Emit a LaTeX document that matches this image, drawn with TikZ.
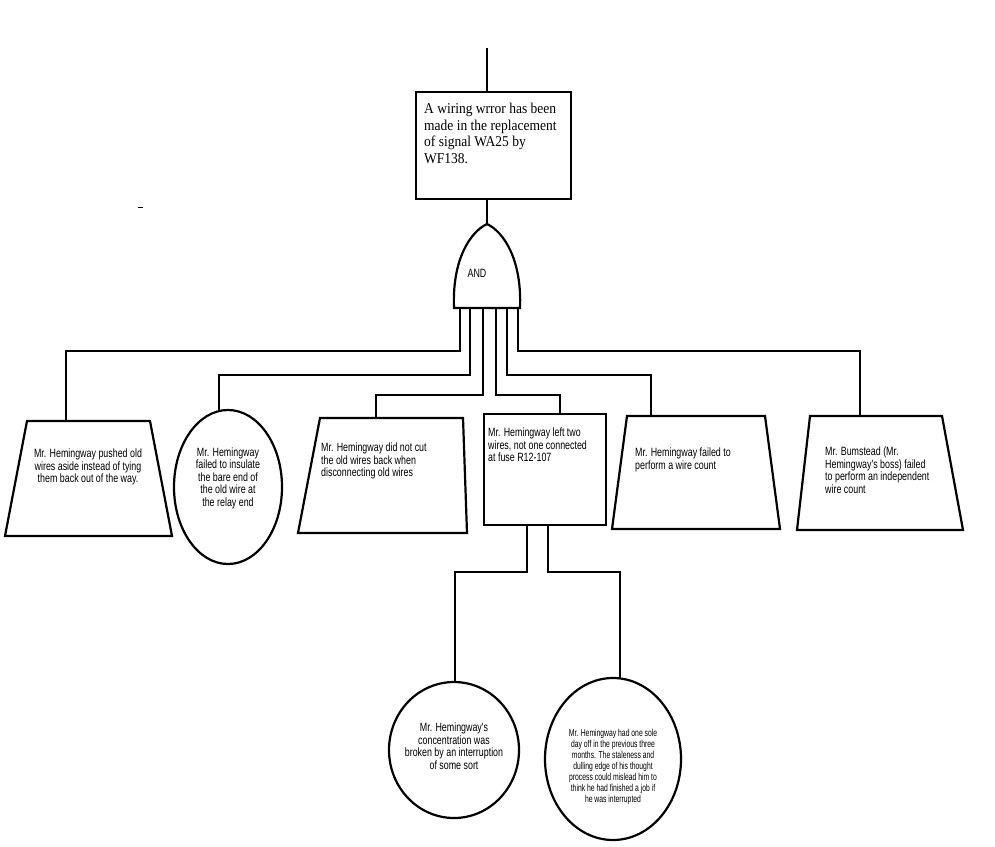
\documentclass[tikz,border=0pt]{standalone}
\usepackage{fontspec}
\setmainfont{Liberation Serif}
\newfontfamily\narrowsans[FakeStretch=0.74]{Liberation Sans}
\begin{document}
\begin{tikzpicture}[x=1pt,y=-1pt,
  shp/.style={draw=black,line width=2.2pt},
  ln/.style={draw=black,line width=2.2pt},
  lbl/.style={font=\narrowsans\fontsize{12}{12.5}\selectfont,align=center,inner sep=0pt}]
\useasboundingbox (0,0) rectangle (995,846);
% top
\coordinate (topend) at (487,48);
\draw[shp] (416,92) rectangle (571,199);
\node[font=\fontsize{15}{16.5}\selectfont\addfontfeatures{FakeStretch=0.9},align=left,anchor=north west,inner sep=0pt] (top) at (424,103) {A wiring wrror has been\\made in the replacement\\of signal WA25 by\\WF138.};
\draw[ln] (topend) -- (487,92);
\draw[ln] (487,199) -- (487,225);
% AND gate
\draw[shp] (454,308) .. controls (452,260) and (470,232) .. (487,224) .. controls (504,232) and (522,260) .. (520,308) -- cycle;
\node[font=\narrowsans\fontsize{12}{13}\selectfont,inner sep=0pt] (and) at (477,273) {AND};
% trap1
\draw[shp] (27,421) -- (150,421) -- (172,536) -- (5,536) -- cycle;
\node[lbl] (t1) at (88,467) {Mr. Hemingway pushed old\\wires aside instead of tying\\them back out of the way.};
\draw[ln] (460,308) -- (460,351) -- (66,351) -- (66,421);
% ellipse2
\draw[shp] (228,487) ellipse [x radius=54,y radius=77];
\node[lbl] (e2) at (228,478) {Mr. Hemingway\\failed to insulate\\the bare end of\\the old wire at\\the relay end};
\draw[ln] (470,308) -- (470,375) -- (219,375) -- (219,410);
% trap3
\draw[shp] (320,418) -- (463,418) -- (467,533) -- (298,533) -- cycle;
\node[lbl,align=left,anchor=north west] (t3) at (321,443) {Mr. Hemingway did not cut\\the old wires back when\\disconnecting old wires};
\draw[ln] (483,308) -- (483,395) -- (376,395) -- (376,418);
% box4
\draw[shp] (484,414) rectangle (606,525);
\node[lbl,align=left,anchor=north west] (b4) at (488,428) {Mr. Hemingway left two\\wires, not one connected\\at fuse R12-107};
\draw[ln] (496,308) -- (496,395) -- (560,395) -- (560,414);
% trap5
\draw[shp] (627,416) -- (765,416) -- (780,529) -- (612,529) -- cycle;
\node[lbl,align=left,anchor=north west] (t5) at (635,448) {Mr. Hemingway failed to\\perform a wire count};
\draw[ln] (507,308) -- (507,375) -- (651,375) -- (651,416);
% trap6
\draw[shp] (810,416) -- (942,416) -- (963,530) -- (797,530) -- cycle;
\node[lbl,align=left,anchor=north west] (t6) at (825,447) {Mr. Bumstead (Mr.\\Hemingway's boss) failed\\to perform an independent\\wire count};
\draw[ln] (518,308) -- (518,351) -- (860,351) -- (860,416);
% bottom ellipses
\draw[shp] (454,750) ellipse [x radius=65,y radius=68];
\node[lbl] (e7) at (454,746) {Mr. Hemingway's\\concentration was\\broken by an interruption\\of some sort};
\draw[shp] (613,759) ellipse [x radius=68,y radius=81];
\node[lbl,font=\narrowsans\fontsize{10}{11}\selectfont\addfontfeatures{FakeStretch=0.68}] (e8) at (613,767) {Mr. Hemingway had one sole\\day off in the previous three\\months. The staleness and\\dulling edge of his thought\\process could mislead him to\\think he had finished a job if\\he was interrupted};
\draw[ln] (527,525) -- (527,572) -- (455,572) -- (455,683);
\draw[ln] (548,525) -- (548,572) -- (620,572) -- (620,679);
\draw[line width=0.8pt] (138,207) -- (143,207);
\end{tikzpicture}
\end{document}
